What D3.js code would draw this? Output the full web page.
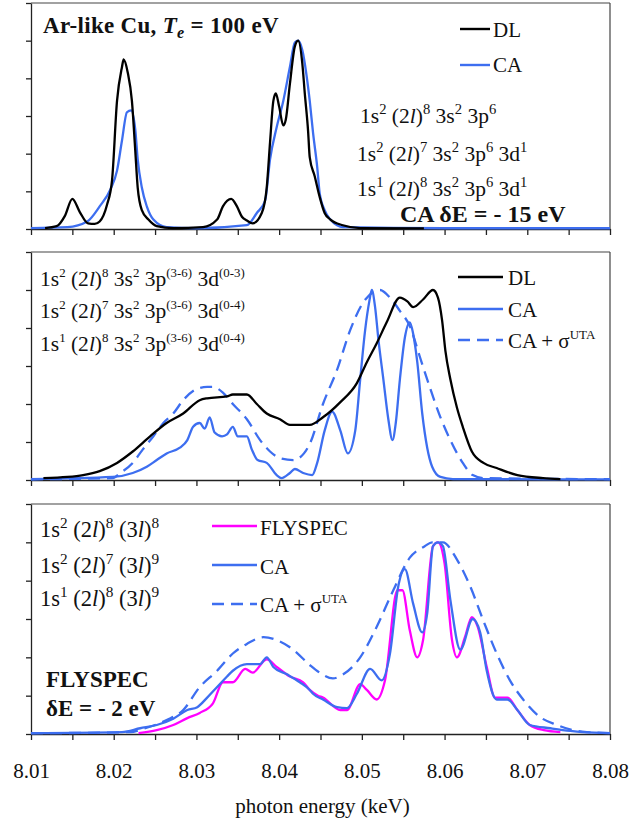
<!DOCTYPE html>
<html>
<head>
<meta charset="utf-8">
<script src="https://cdn.jsdelivr.net/npm/d3@7"></script>
<style>
  body { margin: 0; background: #fff; }
  svg { display: block; }
  text { font-family: "Liberation Serif", "Times New Roman", serif; fill: #111; white-space: pre; }
</style>
</head>
<body>
<div id="chart"></div>
<script>
// ---- data (photon energy keV, normalised intensity) ----
var xTicks = [8.01, 8.015, 8.02, 8.025, 8.03, 8.035, 8.04, 8.045, 8.05, 8.055, 8.06, 8.065, 8.07, 8.075, 8.08];
var yTicks = [0, 0.2, 0.4, 0.6, 0.8, 1.0, 1.2];

// panel 1 : Ar-like Cu, Te = 100 eV
var p1DL = [[8.0117,0.005],[8.0131,0.015],[8.0141,0.07],[8.0150,0.16],[8.0159,0.09],[8.0169,0.03],[8.0177,0.027],
  [8.0183,0.04],[8.0192,0.13],[8.0198,0.26],[8.0204,0.68],[8.0210,0.86],[8.0212,0.90],[8.0217,0.83],[8.0222,0.68],
  [8.0226,0.42],[8.0229,0.22],[8.0234,0.10],[8.0242,0.05],[8.0252,0.015],[8.0272,0.005],[8.0308,0.01],[8.0325,0.05],
  [8.0332,0.12],[8.0342,0.16],[8.0349,0.12],[8.0355,0.065],[8.0361,0.045],[8.0368,0.03],[8.0379,0.085],[8.0385,0.22],
  [8.0389,0.46],[8.0393,0.68],[8.0396,0.72],[8.0400,0.65],[8.0405,0.55],[8.0408,0.58],[8.0413,0.77],[8.0419,0.97],
  [8.0423,1.0],[8.0428,0.88],[8.0431,0.72],[8.0435,0.52],[8.0437,0.38],[8.0443,0.28],[8.0449,0.17],[8.0455,0.085],
  [8.0462,0.05],[8.0477,0.02],[8.0498,0.005],[8.0575,0.003]];
var p1CA = [[8.0100,0.005],[8.0144,0.01],[8.0168,0.04],[8.0183,0.12],[8.0196,0.21],[8.0204,0.31],[8.0210,0.47],
  [8.0216,0.62],[8.0221,0.63],[8.0226,0.53],[8.0229,0.37],[8.0234,0.22],[8.0240,0.12],[8.0248,0.05],[8.0264,0.01],
  [8.0300,0.004],[8.0361,0.02],[8.0373,0.085],[8.0383,0.15],[8.0389,0.37],[8.0397,0.54],[8.0405,0.68],[8.0413,0.86],
  [8.0419,0.99],[8.0423,1.0],[8.0428,0.95],[8.0433,0.82],[8.0437,0.68],[8.0441,0.51],[8.0446,0.33],[8.0449,0.19],
  [8.0455,0.10],[8.0462,0.05],[8.0470,0.02],[8.0477,0.01],[8.0600,0.004],[8.0800,0.004]];

// panel 2
var p2DL = [[8.0115,0.01],[8.0144,0.016],[8.0163,0.026],[8.0183,0.047],[8.0204,0.09],[8.0223,0.15],[8.0244,0.23],
  [8.0264,0.30],[8.0284,0.35],[8.0304,0.42],[8.0313,0.43],[8.0337,0.44],[8.0344,0.45],[8.0361,0.45],[8.0373,0.40],
  [8.0385,0.35],[8.0401,0.32],[8.0413,0.29],[8.0437,0.29],[8.0453,0.33],[8.0474,0.41],[8.0494,0.51],[8.0506,0.62],
  [8.0518,0.72],[8.0530,0.83],[8.0546,0.96],[8.0555,0.94],[8.0562,0.91],[8.0574,0.95],[8.0586,1.0],[8.0592,0.96],
  [8.0597,0.84],[8.0601,0.68],[8.0607,0.53],[8.0615,0.38],[8.0622,0.28],[8.0633,0.15],[8.0647,0.09],[8.0663,0.063],
  [8.0688,0.026],[8.0719,0.01],[8.0740,0.005]];
var p2CA = [[8.0100,0.004],[8.0199,0.016],[8.0223,0.037],[8.0240,0.07],[8.0252,0.105],[8.0264,0.14],[8.0280,0.17],
  [8.0289,0.21],[8.0296,0.28],[8.0304,0.30],[8.0310,0.27],[8.0316,0.33],[8.0322,0.25],[8.0331,0.23],[8.0337,0.24],
  [8.0344,0.28],[8.0350,0.23],[8.0361,0.23],[8.0367,0.16],[8.0374,0.105],[8.0385,0.09],[8.0397,0.026],[8.0403,0.01],
  [8.0413,0.037],[8.0419,0.058],[8.0429,0.037],[8.0440,0.026],[8.0446,0.09],[8.0455,0.26],[8.0464,0.36],[8.0474,0.26],
  [8.0483,0.14],[8.0492,0.26],[8.0498,0.53],[8.0504,0.79],[8.0509,0.94],[8.0512,1.0],[8.0516,0.91],[8.0520,0.74],
  [8.0526,0.53],[8.0532,0.32],[8.0537,0.21],[8.0541,0.30],[8.0546,0.53],[8.0552,0.75],[8.0558,0.83],[8.0562,0.77],
  [8.0567,0.62],[8.0573,0.35],[8.0579,0.17],[8.0585,0.07],[8.0595,0.016],[8.0610,0.005],[8.0800,0.003]];
var p2UTA = [[8.0100,0.004],[8.0199,0.01],[8.0208,0.037],[8.0223,0.09],[8.0235,0.16],[8.0248,0.23],[8.0260,0.30],
  [8.0272,0.35],[8.0284,0.42],[8.0301,0.48],[8.0313,0.49],[8.0320,0.49],[8.0332,0.46],[8.0344,0.40],[8.0361,0.32],
  [8.0377,0.21],[8.0389,0.15],[8.0401,0.115],[8.0417,0.105],[8.0430,0.14],[8.0437,0.19],[8.0453,0.40],[8.0470,0.58],
  [8.0486,0.79],[8.0501,0.93],[8.0514,0.99],[8.0522,1.0],[8.0534,0.96],[8.0546,0.89],[8.0558,0.81],[8.0570,0.65],
  [8.0582,0.49],[8.0595,0.33],[8.0607,0.21],[8.0622,0.09],[8.0634,0.026],[8.0647,0.01],[8.0800,0.004]];

// panel 3
var p3FLY = [[8.0230,0.005],[8.0252,0.02],[8.0272,0.047],[8.0289,0.083],[8.0304,0.11],[8.0320,0.16],[8.0332,0.27],
  [8.0344,0.27],[8.0359,0.34],[8.0368,0.32],[8.0385,0.39],[8.0397,0.35],[8.0413,0.30],[8.0429,0.27],[8.0437,0.23],
  [8.0447,0.20],[8.0453,0.19],[8.0474,0.125],[8.0482,0.125],[8.0498,0.26],[8.0506,0.23],[8.0518,0.18],[8.0528,0.28],
  [8.0543,0.75],[8.0549,0.75],[8.0558,0.54],[8.0567,0.40],[8.0574,0.49],[8.0586,0.98],[8.0592,1.0],[8.0600,0.89],
  [8.0609,0.49],[8.0615,0.40],[8.0625,0.51],[8.0633,0.61],[8.0640,0.56],[8.0651,0.35],[8.0661,0.19],[8.0676,0.19],
  [8.0688,0.125],[8.0703,0.047],[8.0720,0.02],[8.0740,0.01]];
var p3CA = [[8.0100,0.005],[8.0210,0.01],[8.0232,0.03],[8.0252,0.047],[8.0272,0.08],[8.0289,0.125],[8.0301,0.14],
  [8.0313,0.19],[8.0325,0.245],[8.0337,0.30],[8.0344,0.33],[8.0361,0.365],[8.0377,0.365],[8.0385,0.40],[8.0393,0.35],
  [8.0410,0.31],[8.0425,0.27],[8.0437,0.23],[8.0441,0.21],[8.0453,0.18],[8.0470,0.14],[8.0482,0.135],[8.0494,0.21],
  [8.0510,0.34],[8.0524,0.28],[8.0534,0.42],[8.0544,0.77],[8.0552,0.86],[8.0562,0.68],[8.0573,0.53],[8.0579,0.63],
  [8.0586,0.98],[8.0592,1.0],[8.0598,0.98],[8.0607,0.70],[8.0619,0.44],[8.0634,0.60],[8.0643,0.53],[8.0651,0.33],
  [8.0663,0.18],[8.0676,0.18],[8.0688,0.125],[8.0703,0.047],[8.0728,0.03],[8.0752,0.016],[8.0767,0.01],[8.0800,0.005]];
var p3UTA = [[8.0100,0.004],[8.0220,0.01],[8.0235,0.026],[8.0264,0.073],[8.0284,0.125],[8.0304,0.245],[8.0325,0.33],
  [8.0344,0.42],[8.0361,0.47],[8.0381,0.505],[8.0397,0.49],[8.0417,0.44],[8.0437,0.36],[8.0449,0.32],[8.0465,0.29],
  [8.0477,0.31],[8.0498,0.40],[8.0518,0.56],[8.0538,0.75],[8.0558,0.92],[8.0576,0.98],[8.0585,1.0],[8.0598,1.0],
  [8.0615,0.91],[8.0631,0.77],[8.0647,0.59],[8.0663,0.42],[8.0679,0.28],[8.0695,0.18],[8.0715,0.09],[8.0736,0.047],
  [8.0755,0.02],[8.0772,0.01],[8.0800,0.005]];

// text pieces: [text, style]  style: i = italic, sup / sub
var p1Title = [["Ar-like Cu, "],["T","i"],["e","isub"],[" = 100 eV"]];
var p1Configs = [
  [["1s"],["2","sup"],[" (2"],["l","i"],[")"],["8","sup"],[" 3s"],["2","sup"],[" 3p"],["6","sup"]],
  [["1s"],["2","sup"],[" (2"],["l","i"],[")"],["7","sup"],[" 3s"],["2","sup"],[" 3p"],["6","sup"],[" 3d"],["1","sup"]],
  [["1s"],["1","sup"],[" (2"],["l","i"],[")"],["8","sup"],[" 3s"],["2","sup"],[" 3p"],["6","sup"],[" 3d"],["1","sup"]]
];
var p2Configs = [
  [["1s"],["2","sup"],[" (2"],["l","i"],[")"],["8","sup"],[" 3s"],["2","sup"],[" 3p"],["(3-6)","sup"],[" 3d"],["(0-3)","sup"]],
  [["1s"],["2","sup"],[" (2"],["l","i"],[")"],["7","sup"],[" 3s"],["2","sup"],[" 3p"],["(3-6)","sup"],[" 3d"],["(0-4)","sup"]],
  [["1s"],["1","sup"],[" (2"],["l","i"],[")"],["8","sup"],[" 3s"],["2","sup"],[" 3p"],["(3-6)","sup"],[" 3d"],["(0-4)","sup"]]
];
var p3Configs = [
  [["1s"],["2","sup"],[" (2"],["l","i"],[")"],["8","sup"],[" (3"],["l","i"],[")"],["8","sup"]],
  [["1s"],["2","sup"],[" (2"],["l","i"],[")"],["7","sup"],[" (3"],["l","i"],[")"],["9","sup"]],
  [["1s"],["1","sup"],[" (2"],["l","i"],[")"],["8","sup"],[" (3"],["l","i"],[")"],["9","sup"]]
];
var utaLabel = [["CA + σ"],["UTA","sup"]];

var BLUE = "#3d6ef0", MAGENTA = "#ff00ff", BLACK = "#000";
var SERIF = "'Liberation Serif', 'Times New Roman', serif";

var W = 631, H = 827;
var left = 31, right = 610;
var panels = [{top: 3, bottom: 229}, {top: 252, bottom: 480}, {top: 504, bottom: 734}];

var svg = d3.select("#chart").append("svg").attr("width", W).attr("height", H)
  .style("font-family", SERIF);

var x = d3.scaleLinear().domain([8.01, 8.08]).range([left, right]);

function richText(g, px, py, parts, size, weight, supScale) {
  supScale = supScale || 0.68;
  var t = g.append("text").attr("x", px).attr("y", py)
    .style("font-family", SERIF)
    .style("font-size", size + "px").style("font-weight", weight || "normal");
  var cur = 0;
  parts.forEach(function(p) {
    var k = p[1] || "";
    var s = t.append("tspan").text(p[0]);
    var off = 0;
    if (k.indexOf("sup") >= 0) { off = -0.42 * size; s.style("font-size", (supScale * size) + "px"); }
    if (k.indexOf("sub") >= 0) { off = 0.22 * size; s.style("font-size", (0.7 * size) + "px"); }
    if (k.indexOf("i") === 0) s.style("font-style", "italic");
    if (off !== cur) { s.attr("dy", off - cur); cur = off; }
  });
  return t;
}

function drawPanel(p, i) {
  var y = d3.scaleLinear().domain([0, 1.2]).range([p.bottom, p.top]);
  var g = svg.append("g");

  // top + right border
  g.append("line").attr("x1", left).attr("x2", right).attr("y1", p.top).attr("y2", p.top)
    .attr("stroke", "#444").attr("stroke-width", 1.2);
  g.append("line").attr("x1", right).attr("x2", right).attr("y1", p.top).attr("y2", p.bottom)
    .attr("stroke", "#444").attr("stroke-width", 1.2);

  var xAxis = d3.axisBottom(x).tickValues(xTicks).tickSize(6).tickSizeOuter(0).tickPadding(23)
    .tickFormat(function(d, j) { return (i === 2 && j % 2 === 0) ? d3.format(".2f")(d) : ""; });
  var ax = g.append("g").attr("transform", "translate(0," + p.bottom + ")").call(xAxis)
    .attr("font-family", SERIF);
  ax.selectAll("text").style("font-size", "21px").style("font-family", SERIF).attr("fill", "#111");

  var yAxis = d3.axisLeft(y).tickValues(yTicks).tickSize(5).tickSizeOuter(0).tickFormat("");
  var ay = g.append("g").attr("transform", "translate(" + left + ",0)").call(yAxis);

  [ax, ay].forEach(function(a) {
    a.select(".domain").attr("stroke", "#222").attr("stroke-width", 1.3);
    a.selectAll(".tick line").attr("stroke", "#222").attr("stroke-width", 1.3);
  });
  return {g: g, y: y};
}

function curve(g, y, data, color, dashed) {
  var line = d3.line().x(function(d) { return x(d[0]); }).y(function(d) { return y(d[1]); })
    .curve(d3.curveMonotoneX);
  g.append("path").datum(data).attr("d", line).attr("fill", "none")
    .attr("stroke", color).attr("stroke-width", 2.3)
    .attr("stroke-linejoin", "round")
    .attr("stroke-dasharray", dashed ? "12,7" : null);
}

function legendItem(g, x1, x2, ly, color, dashed, label, tx, ty) {
  g.append("line").attr("x1", x1).attr("x2", x2).attr("y1", ly).attr("y2", ly)
    .attr("stroke", color).attr("stroke-width", 2.4).attr("stroke-dasharray", dashed ? "12,7" : null);
  richText(g, tx, ty, typeof label === "string" ? [[label]] : label, 21, null, 0.62);
}

// panel 1
var P1 = drawPanel(panels[0], 0);
curve(P1.g, P1.y, p1CA, BLUE, false);
curve(P1.g, P1.y, p1DL, BLACK, false);
richText(P1.g, 43, 33, p1Title, 23, "bold").style("letter-spacing", "0.3px");
legendItem(P1.g, 460, 490, 29, BLACK, false, "DL", 493, 37);
legendItem(P1.g, 460, 490, 65, BLUE, false, "CA", 493, 72);
p1Configs.forEach(function(c, k) { richText(P1.g, k === 0 ? 360 : 357, [123, 161, 196][k], c, 21.5); });
richText(P1.g, 400, 222, [["CA δE = - 15 eV"]], 24, "bold");

// panel 2
var P2 = drawPanel(panels[1], 1);
curve(P2.g, P2.y, p2UTA, BLUE, true);
curve(P2.g, P2.y, p2CA, BLUE, false);
curve(P2.g, P2.y, p2DL, BLACK, false);
p2Configs.forEach(function(c, k) { richText(P2.g, 40, [286, 318, 351][k], c, 21.5, null, 0.6); });
legendItem(P2.g, 458, 503, 277, BLACK, false, "DL", 508, 285);
legendItem(P2.g, 458, 503, 309, BLUE, false, "CA", 508, 317);
legendItem(P2.g, 458, 503, 340, BLUE, true, utaLabel, 508, 348);

// panel 3
var P3 = drawPanel(panels[2], 2);
curve(P3.g, P3.y, p3FLY, MAGENTA, false);
curve(P3.g, P3.y, p3UTA, BLUE, true);
curve(P3.g, P3.y, p3CA, BLUE, false);
p3Configs.forEach(function(c, k) { richText(P3.g, 40, [537, 573, 606][k], c, 22.5); });
legendItem(P3.g, 212, 257, 526, MAGENTA, false, "FLYSPEC", 260, 535);
legendItem(P3.g, 212, 257, 565, BLUE, false, "CA", 260, 574);
legendItem(P3.g, 212, 257, 604, BLUE, true, utaLabel, 260, 612);
richText(P3.g, 46, 687, [["FLYSPEC"]], 23, "bold");
richText(P3.g, 46, 716, [["δE = - 2 eV"]], 23, "bold");

// x axis title
svg.append("text").attr("x", (left + right) / 2 + 2).attr("y", 813).attr("text-anchor", "middle")
  .style("font-family", SERIF).style("font-size", "21px").text("photon energy (keV)");
</script>
</body>
</html>
